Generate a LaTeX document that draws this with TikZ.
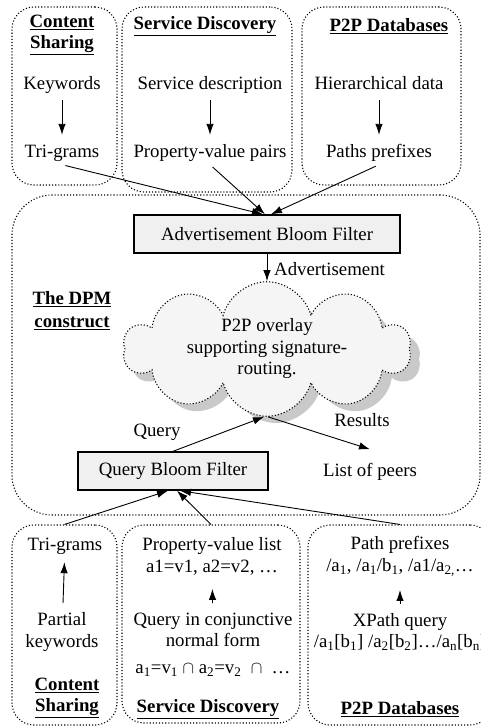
\documentclass[tikz,border=0pt]{standalone}
\usepackage{fontspec}
\setmainfont{Liberation Serif}
\usetikzlibrary{shapes.symbols,arrows.meta,calc}
\begin{document}
\begin{tikzpicture}[x=1pt,y=-1pt,
  font=\fontsize{18.8}{21.5}\selectfont,
  tx/.style={inner sep=3pt, text height=13pt, text depth=4pt},
  mx/.style={inner sep=3pt, align=center},
  grp/.style={draw, dotted, line width=1.1pt, inner sep=0pt},
  bfbox/.style={draw, line width=1.4pt, fill=gray!12, inner sep=0pt},
  arr/.style={-{Latex[length=11pt,width=7.5pt]}, line width=0.9pt},
  ttl/.style={font=\fontsize{18.8}{20.5}\selectfont\bfseries, align=center, inner sep=2pt},
  cloudsty/.style={cloud, cloud puffs=10, cloud ignores aspect, minimum width=287pt, minimum height=128pt, inner sep=0pt}]
\useasboundingbox (0,0) rectangle (481,726);
\clip (0,0) rectangle (481,726);

% group frames
\node[grp, rounded corners=22pt, minimum width=105pt, minimum height=178pt] (gt1) at (64.5,96) {};
\node[grp, rounded corners=22pt, minimum width=170pt, minimum height=185pt] (gt2) at (207,99.5) {};
\node[grp, rounded corners=22pt, minimum width=159pt, minimum height=178pt] (gt3) at (381.5,96) {};
\node[grp, rounded corners=40pt, minimum width=468pt, minimum height=320pt] (dpm) at (246,355) {};
\node[grp, rounded corners=22pt, minimum width=105pt, minimum height=200pt] (gb1) at (64.5,625) {};
\node[grp, rounded corners=22pt, minimum width=178pt, minimum height=198pt] (gb2) at (211,624) {};
\node[grp, rounded corners=22pt, minimum width=184pt, minimum height=200pt] (gb3) at (400,625) {};

% top titles
\node[ttl] (tt1) at (62,35) {\underline{Content}\\\underline{Sharing}};
\node[ttl] (tt2) at (205,26) {\underline{Service Discovery}};
\node[ttl] (tt3) at (389,26) {\underline{P2P Databases}};

% top texts
\node[tx] (kw) at (62,85) {Keywords};
\node[tx] (tg1) at (62,153) {Tri-grams};
\node[tx] (sd) at (210,85) {Service description};
\node[tx] (pv) at (210,153) {Property-value pairs};
\node[tx] (hd) at (379,85) {Hierarchical data};
\node[tx] (pp) at (379,153) {Paths prefixes};

\draw[arr, shorten <=3.5pt, shorten >=6.5pt] (kw) -- (tg1);
\draw[arr, shorten <=3.5pt, shorten >=6.5pt] (sd) -- (pv);
\draw[arr, shorten <=3.5pt, shorten >=6.5pt] (hd) -- (pp);

% advertisement bloom filter
\node[bfbox, minimum width=266pt, minimum height=38pt] (abf) at (267,234) {Advertisement Bloom Filter};
\draw[arr, shorten <=3.5pt] (tg1.south) -- ([xshift=-4pt]abf.north);
\draw[arr, shorten <=3.5pt] (pv.south) -- ([xshift=-2pt]abf.north);
\draw[arr, shorten <=3.5pt] (pp.south) -- ([xshift=4pt]abf.north);

% cloud
\node[cloudsty, fill=gray!42] (cshadow) at (276,359) {};
\node[cloudsty, draw, dotted, line width=1.1pt, fill=gray!8, align=center] (cloud) at (267,349) {P2P overlay\\supporting signature-\\routing.};
\draw[arr] (abf.south) -- (cloud.north);
\node[tx, anchor=west] (adv) at (271,271) {Advertisement};
\node[ttl, font=\fontsize{18.8}{23}\selectfont\bfseries] (dpmt) at (72,311) {\underline{The DPM}\\\underline{construct}};

% query bloom filter
\node[bfbox, minimum width=190pt, minimum height=38pt] (qbf) at (173,471) {Query Bloom Filter};
\node[tx] (peers) at (370,472) {List of peers};
\draw[arr] (qbf.north) -- ([xshift=-3pt]cloud.south);
\draw[arr] ([xshift=1pt]cloud.south) -- ([yshift=11pt]peers.north);
\node[tx] (qlab) at (157,432) {Query};
\node[tx] (rlab) at (362,422) {Results};

% bottom texts
\node[tx] (tg2) at (65,546) {Tri-grams};
\node[mx] (pk) at (62,632) {Partial\\keywords};
\draw[arr, shorten <=6.5pt, shorten >=4.5pt] (pk) -- (tg2);

\node[mx] (pvl) at (212,556.5) {Property-value list\\a1=v1, a2=v2, …};
\node[mx] (qcnf) at (213,644.5) {Query in conjunctive\\normal form\\[5pt]a\textsubscript{1}=v\textsubscript{1} $\cap$ a\textsubscript{2}=v\textsubscript{2}\ \ $\cap$\ \ …};
\draw[arr, shorten <=6.5pt, shorten >=10.5pt] (qcnf) -- (pvl);

\node[mx] (ppl) at (400,556.5) {Path prefixes\\/a\textsubscript{1}, /a\textsubscript{1}/b\textsubscript{1}, /a1/a\textsubscript{2,}…};
\node[mx] (xq) at (400,632) {XPath query\\/a\textsubscript{1}[b\textsubscript{1}] /a\textsubscript{2}[b\textsubscript{2}]…/a\textsubscript{n}[b\textsubscript{n}]};
\draw[arr, shorten <=6.5pt, shorten >=10.5pt] (xq) -- (ppl);

% bottom titles
\node[ttl] (bt1) at (67,698) {\underline{Content}\\\underline{Sharing}};
\node[ttl] (bt2) at (208,709) {\underline{Service Discovery}};
\node[ttl] (bt3) at (400,709) {\underline{P2P Databases}};

% to query bloom filter
\draw[arr] (gb1.north) -- ([xshift=-5pt]qbf.south);
\draw[arr] (gb2.north) -- ([xshift=4pt]qbf.south);
\draw[arr] (gb3.north) -- ([xshift=7pt]qbf.south);
\end{tikzpicture}
\end{document}
